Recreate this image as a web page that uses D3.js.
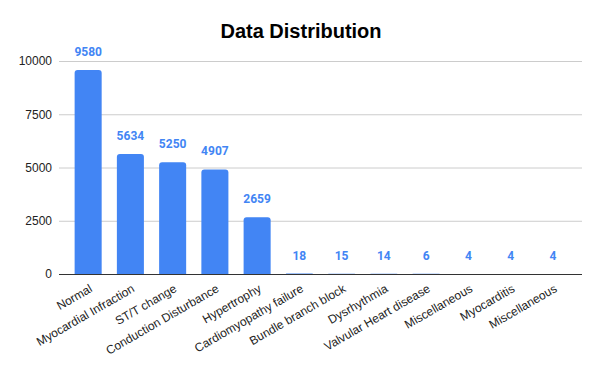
<!DOCTYPE html>
<html>
<head>
<meta charset="utf-8">
<script src="https://cdn.jsdelivr.net/npm/d3@7"></script>
<style>
  html, body { margin: 0; padding: 0; background: #fff; }
  svg { display: block; }
</style>
</head>
<body>
<svg id="chart" width="600" height="371"></svg>
<script>
const categories = ["Normal", "Myocardial Infraction", "ST/T change", "Conduction Disturbance", "Hypertrophy", "Cardiomyopathy failure", "Bundle branch block", "Dysrhythmia", "Valvular Heart disease", "Miscellaneous", "Myocarditis", "Miscellaneous "];
const counts = [9580, 5634, 5250, 4907, 2659, 18, 15, 14, 6, 4, 4, 4];
const yTicks = [0, 2500, 5000, 7500, 10000];
const chartTitle = "Data Distribution";

const svg = d3.select("#chart");
const margin = { left: 59, right: 18, top: 61, bottom: 97 };
const W = 600, H = 371;

const x = d3.scaleBand().domain(categories).range([margin.left, W - margin.right]).paddingInner(0.36).paddingOuter(0.37);
const y = d3.scaleLinear().domain([0, 10000]).range([H - margin.bottom, margin.top]);

// title
svg.append("text")
  .attr("x", 301).attr("y", 38)
  .attr("text-anchor", "middle")
  .attr("font-family", "Liberation Sans, Arial, sans-serif")
  .attr("font-weight", "bold").attr("font-size", 20)
  .attr("fill", "#000")
  .text(chartTitle);

// y axis / grid
const yAxis = d3.axisLeft(y).tickValues(yTicks).tickSize(-(W - margin.right - margin.left)).tickPadding(7).tickFormat(d3.format("d"));
const gy = svg.append("g").attr("transform", `translate(${margin.left},0)`).call(yAxis);
gy.select(".domain").remove();
gy.selectAll(".tick line").attr("stroke", "#cccccc").attr("stroke-width", 1);
gy.selectAll(".tick text")
  .attr("font-family", "Liberation Sans, Arial, sans-serif")
  .attr("font-size", 12).attr("fill", "#222");

// bars with rounded tops
const r = 3;
function barPath(d, i) {
  const x0 = x(categories[i]), w = x.bandwidth();
  const yt = y(d), yb = y(0);
  const h = yb - yt;
  const rr = Math.min(r, h, w / 2);
  return `M${x0},${yb}V${yt + rr}Q${x0},${yt} ${x0 + rr},${yt}H${x0 + w - rr}Q${x0 + w},${yt} ${x0 + w},${yt + rr}V${yb}Z`;
}
svg.append("g").selectAll("path").data(counts).join("path")
  .attr("d", barPath)
  .attr("fill", "#4285f4");

// baseline
svg.append("line")
  .attr("x1", margin.left).attr("x2", W - margin.right)
  .attr("y1", y(0) + 0.5).attr("y2", y(0) + 0.5)
  .attr("stroke", "#333").attr("stroke-width", 1);

// value labels
svg.append("g").selectAll("text").data(counts).join("text")
  .attr("x", (d, i) => x(categories[i]) + x.bandwidth() / 2)
  .attr("y", d => y(d) - 14)
  .attr("text-anchor", "middle")
  .attr("font-family", "Roboto, Arial, sans-serif")
  .attr("font-weight", "bold").attr("font-size", 12)
  .attr("fill", "#4285f4")
  .text(d => d);

// x labels
svg.append("g").selectAll("text").data(categories).join("text")
  .attr("transform", d => `translate(${x(d) + x.bandwidth() / 2 + 5},${y(0) + 17}) rotate(-30)`)
  .attr("text-anchor", "end")
  .attr("font-family", "Liberation Sans, Arial, sans-serif")
  .attr("font-size", 12).attr("fill", "#222")
  .text(d => d.trim());
</script>
</body>
</html>
